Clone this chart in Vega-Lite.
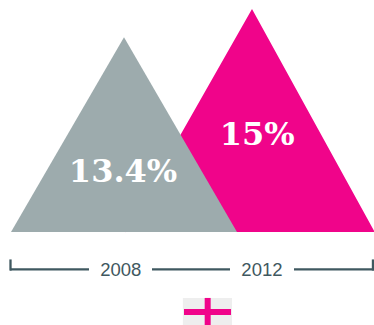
{
"$schema":"https://vega.github.io/schema/vega-lite/v6.json",
"width":374,"height":325,"padding":0,"autosize":{"type":"none"},
"background":"white","view":{"stroke":null},
"resolve":{"scale":{"x":"shared","y":"shared"}},
"layer":[
{"data":{"values":[{"t":2008.03,"v":-0.03},{"t":2012,"v":15},{"t":2015.84,"v":-0.03}]},
 "mark":{"type":"area","color":"#f0048a","line":false},
 "encoding":{"x":{"field":"t","type":"quantitative","scale":{"domain":[2004.125,2015.8125],"nice":false,"zero":false},"axis":null},
  "y":{"field":"v","type":"quantitative","scale":{"domain":[-6.26,15.6],"nice":false,"zero":false},"axis":null}}},
{"data":{"values":[{"t":2004.469,"v":0},{"t":2008,"v":13.1},{"t":2011.531,"v":0}]},
 "mark":{"type":"area","color":"#9dabad"},
 "encoding":{"x":{"field":"t","type":"quantitative"},"y":{"field":"v","type":"quantitative"}}},
{"data":{"values":[{"t":2007.97,"v":4.0,"label":"13.4%"},{"t":2012.16,"v":6.55,"label":"15%"}]},
 "mark":{"type":"text","font":"DejaVu Serif","fontWeight":"bold","fontSize":32,"color":"white","align":"center","baseline":"middle"},
 "encoding":{"x":{"field":"t","type":"quantitative"},"y":{"field":"v","type":"quantitative"},"text":{"field":"label"}}},
{"data":{"values":[{"a":2004.4375,"b":2006.906,"v":-2.52},{"a":2008.875,"b":2011.3125,"v":-2.52},{"a":2013.3125,"b":2015.8125,"v":-2.52}]},
 "mark":{"type":"rule","color":"#3f5860","strokeWidth":2.3},
 "encoding":{"x":{"field":"a","type":"quantitative"},"x2":{"field":"b"},"y":{"field":"v","type":"quantitative"}}},
{"data":{"values":[{"a":2004.453,"v":-1.85,"w":-2.6},{"a":2015.78,"v":-1.85,"w":-2.6}]},
 "mark":{"type":"rule","color":"#3f5860","strokeWidth":2.3},
 "encoding":{"x":{"field":"a","type":"quantitative"},"y":{"field":"v","type":"quantitative"},"y2":{"field":"w"}}},
{"data":{"values":[{"t":2007.9,"v":-2.56,"label":"2008"},{"t":2012.31,"v":-2.56,"label":"2012"}]},
 "mark":{"type":"text","font":"Liberation Sans","fontSize":18.5,"color":"#3f5860","align":"center","baseline":"middle"},
 "encoding":{"x":{"field":"t","type":"quantitative"},"y":{"field":"v","type":"quantitative"},"text":{"field":"label"}}},
{"data":{"values":[{"a":2009.84,"b":2011.375,"v":-4.44,"w":-6.26}]},
 "mark":{"type":"rect","color":"#eeeeee"},
 "encoding":{"x":{"field":"a","type":"quantitative"},"x2":{"field":"b"},"y":{"field":"v","type":"quantitative"},"y2":{"field":"w"}}},
{"data":{"values":[{"a":2009.875,"b":2011.344,"v":-5.38}]},
 "mark":{"type":"rule","color":"#f0048a","strokeWidth":6},
 "encoding":{"x":{"field":"a","type":"quantitative"},"x2":{"field":"b"},"y":{"field":"v","type":"quantitative"}}},
{"data":{"values":[{"a":2010.615,"v":-4.44,"w":-6.26}]},
 "mark":{"type":"rule","color":"#f0048a","strokeWidth":6},
 "encoding":{"x":{"field":"a","type":"quantitative"},"y":{"field":"v","type":"quantitative"},"y2":{"field":"w"}}}
]}
